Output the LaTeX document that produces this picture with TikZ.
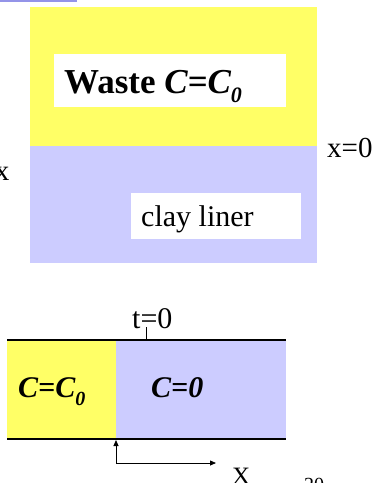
\documentclass[tikz,border=0pt]{standalone}
\usepackage{fontspec}
\setmainfont{Liberation Serif}
\usetikzlibrary{arrows.meta}
\definecolor{wasteyellow}{HTML}{FFFF66}
\definecolor{linerblue}{HTML}{CCCCFF}
\definecolor{stripblue}{HTML}{9494E8}
\tikzset{
  lbl/.style={inner sep=0pt, anchor=base west, font=\fontsize{30}{34}\selectfont},
  whitebox/.style={fill=white, draw=none},
  boundary/.style={line width=1.6pt},
  axis/.style={line width=0.8pt, -{Triangle[length=6pt,width=5pt]}},
}
\newcommand{\subz}[1]{\raisebox{-0.28em}{\fontsize{#1}{#1}\selectfont 0}}
\begin{document}
\begin{tikzpicture}[x=1pt,y=-1pt]
\useasboundingbox (0,0) rectangle (387,483);
% top strip fragment
\fill[stripblue] (0,0) rectangle (77,1.6);
% upper picture
\fill[wasteyellow] (30,7) rectangle (317,146);
\fill[linerblue] (30,146) rectangle (317,263);
\fill[whitebox] (54,54) rectangle (286,107);
\node[lbl, font=\fontsize{35}{40}\selectfont\bfseries] (waste) at (64,93) {Waste \itshape C=C\subz{22}};
\fill[whitebox] (131,193) rectangle (301,239);
\node[lbl] (clay) at (141,226) {clay liner};
\node[lbl, font=\fontsize{29}{33}\selectfont] (x0) at (327,157) {x=0};
\node[inner sep=0pt, anchor=base east, font=\fontsize{29}{33}\selectfont] (xl) at (9.5,180) {x};
% lower picture
\fill[wasteyellow] (7,340) rectangle (116,439);
\fill[linerblue] (116,340) rectangle (286,439);
\coordinate (tl) at (7,340);
\coordinate (tr) at (286,340);
\coordinate (bl) at (7,439);
\coordinate (br) at (286,439);
\draw[boundary] (tl) -- (tr);
\draw[boundary] (bl) -- (br);
\node[lbl] (t0) at (132,328) {t=0};
\coordinate (tick) at (146.5,340);
\draw[line width=0.6pt] (tick) -- ++(0,-13);
\node[lbl, font=\fontsize{30}{34}\selectfont\bfseries\itshape] (cc0) at (18,397) {C=C\subz{20}};
\node[lbl, font=\fontsize{30}{34}\selectfont\bfseries\itshape] (c0) at (151,397) {C=0};
\coordinate (origin) at (116,463);
\coordinate (up) at (116,440);
\coordinate (right) at (216,463);
\draw[axis] (origin) -- (up);
\draw[axis] (origin) -- (right);
\node[inner sep=0pt, anchor=north west, font=\fontsize{25}{30}\selectfont] (xlab) at (232,468) {X};
\node[inner sep=0pt, anchor=north west, font=\fontsize{20}{24}\selectfont] (pg) at (304,478) {20};
\node[inner sep=0pt, anchor=north east, font=\fontsize{20}{24}\selectfont] (pg1) at (4,478) {1};
\end{tikzpicture}
\end{document}
